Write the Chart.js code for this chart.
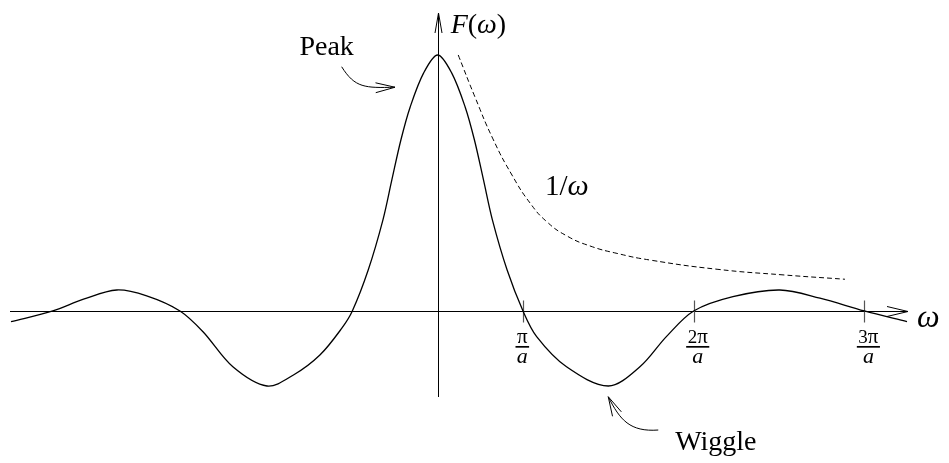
<!DOCTYPE html>
<html><head><meta charset="utf-8">
<script src="https://cdn.jsdelivr.net/npm/chart.js@4"></script>
<style>html,body{margin:0;padding:0;background:#fff}canvas{display:block}</style>
</head><body>
<canvas id="c" width="949" height="463"></canvas>
<script>
// F(ω) sampled along ω (horizontal unit: the π/a tick sits at 1)
const omega = [-5.0, -4.51, -4.15, -3.76, -3.41, -3.02, -2.75, -2.40, -2.00, -1.69, -1.38, -1.125, -1.0,
  -0.814, -0.642, -0.537, -0.431, -0.322, -0.164, 0, 0.164, 0.322, 0.431, 0.537, 0.642, 0.814, 1.0,
  1.16, 1.51, 2.0, 2.37, 2.68, 3.0, 3.46, 4.01, 4.48, 5.0, 5.5];
const response = [-0.042, 0, 0.046, 0.082, 0.059, 0, -0.081, -0.218, -0.293, -0.25, -0.172, -0.068, 0,
  0.16, 0.355, 0.512, 0.668, 0.797, 0.93, 1.0, 0.93, 0.797, 0.668, 0.512, 0.355, 0.16, 0,
  -0.10, -0.218, -0.293, -0.218, -0.10, 0, 0.056, 0.082, 0.05, 0, -0.042];

// 1/ω envelope
const envOmega = [0.241, 0.437, 0.648, 0.871, 1.082, 1.281, 1.515, 1.785, 2.101, 2.488, 3.274, 4.047, 4.773];
const envValue = [1.000, 0.836, 0.672, 0.531, 0.422, 0.348, 0.293, 0.254, 0.225, 0.199, 0.163, 0.141, 0.124];

// horizontal axis ticks
const tickPos = [1, 3, 5];
const tickNum = ['π', '2π', '3π'];
const tickDen = 'a';

const SERIF = '"Liberation Serif", "DejaVu Serif", serif';
const UP = s => s + 'px ' + SERIF;
const IT = s => 'italic ' + s + 'px ' + SERIF;

// text and arrow annotations, placed in data coordinates; each text is a run of [string, font]
const notes = [
  { runs: [['Peak', UP(28)]], at: [-1.62, 1.0] },
  { runs: [['Wiggle', UP(28)]], at: [2.783, -0.543] },
  { runs: [['1/', UP(29)], ['ω', IT(30)]], at: [1.258, 0.453] }
];
// pointers as cubic Bézier paths: start, control 1, control 2, tip
const arrows = [
  { path: [[-1.125, 0.954], [-0.969, 0.871], [-0.852, 0.871], [-0.500, 0.874]] },
  { path: [[2.585, -0.465], [2.254, -0.473], [2.136, -0.426], [1.999, -0.335]] }
];

function drawRuns(ctx, runs, x, y, align) {
  let w = 0;
  runs.forEach(r => { ctx.font = r[1]; w += ctx.measureText(r[0]).width; });
  let cx = align === 'center' ? x - w / 2 : x;
  runs.forEach(r => { ctx.font = r[1]; ctx.fillText(r[0], cx, y); cx += ctx.measureText(r[0]).width; });
  return w;
}

const sketch = {
  id: 'sketch',
  beforeDatasetsDraw(chart) {
    const { ctx, scales: { x, y } } = chart;
    const x0 = Math.round(x.getPixelForValue(0)) + 0.5;
    const y0 = Math.round(y.getPixelForValue(0)) + 0.5;
    ctx.save();
    ctx.strokeStyle = '#000';
    ctx.lineWidth = 1;
    // ω axis
    ctx.beginPath(); ctx.moveTo(x.left - 1, y0); ctx.lineTo(x.right + 1, y0); ctx.stroke();
    ctx.beginPath(); ctx.moveTo(x.right - 20, y0 - 5); ctx.lineTo(x.right + 1, y0); ctx.lineTo(x.right - 20, y0 + 5); ctx.stroke();
    // F axis
    ctx.beginPath(); ctx.moveTo(x0, y.bottom); ctx.lineTo(x0, y.top); ctx.stroke();
    ctx.beginPath(); ctx.moveTo(x0 - 3.5, y.top + 20); ctx.lineTo(x0, y.top); ctx.lineTo(x0 + 3.5, y.top + 20); ctx.stroke();
    // ticks
    ctx.strokeStyle = '#555';
    ctx.lineWidth = 1.2;
    tickPos.forEach(t => {
      const px = Math.round(x.getPixelForValue(t)) + 0.5;
      ctx.beginPath(); ctx.moveTo(px, y0 - 11); ctx.lineTo(px, y0 + 11); ctx.stroke();
    });
    ctx.restore();
  },
  afterDraw(chart) {
    const { ctx, scales: { x, y } } = chart;
    const x0 = x.getPixelForValue(0);
    const y0 = y.getPixelForValue(0);
    ctx.save();
    ctx.fillStyle = '#000';
    ctx.strokeStyle = '#000';
    ctx.textBaseline = 'alphabetic';
    ctx.textAlign = 'left';

    // fraction tick labels
    tickPos.forEach((t, i) => {
      const px = x.getPixelForValue(t);
      const left = px - 7.5;
      const num = tickNum[i];
      const runs = num.length > 1 ? [[num.slice(0, -1), UP(19)], ['π', UP(21)]] : [['π', UP(21)]];
      let w = 0;
      runs.forEach(r => { ctx.font = r[1]; w += ctx.measureText(r[0]).width; });
      const barW = w + 3;
      drawRuns(ctx, runs, left + barW / 2, y0 + 32, 'center');
      ctx.fillRect(left, y0 + 35, barW, 1.7);
      drawRuns(ctx, [[tickDen, IT(22)]], left + barW / 2, y0 + 52, 'center');
    });

    // axis names
    drawRuns(ctx, [['ω', IT(32)]], x.right + 10, y0 + 16, 'left');
    drawRuns(ctx, [['F', IT(28)], ['(', UP(28)], ['ω', IT(28)], [')', UP(28)]], x0 + 13, y.top + 20, 'left');

    // notes
    notes.forEach(n => drawRuns(ctx, n.runs, x.getPixelForValue(n.at[0]), y.getPixelForValue(n.at[1]), 'left'));

    // curved pointers
    ctx.lineWidth = 1;
    arrows.forEach(a => {
      const p = a.path.map(q => [x.getPixelForValue(q[0]), y.getPixelForValue(q[1])]);
      ctx.beginPath();
      ctx.moveTo(p[0][0], p[0][1]);
      ctx.bezierCurveTo(p[1][0], p[1][1], p[2][0], p[2][1], p[3][0], p[3][1]);
      ctx.stroke();
      const ang = Math.atan2(p[3][1] - p[2][1], p[3][0] - p[2][0]);
      const L = 20, h = 0.25;
      ctx.beginPath();
      ctx.moveTo(p[3][0] - L * Math.cos(ang - h), p[3][1] - L * Math.sin(ang - h));
      ctx.lineTo(p[3][0], p[3][1]);
      ctx.lineTo(p[3][0] - L * Math.cos(ang + h), p[3][1] - L * Math.sin(ang + h));
      ctx.stroke();
    });
    ctx.restore();
  }
};

new Chart(document.getElementById('c'), {
  type: 'line',
  data: {
    datasets: [
      {
        data: omega.map((w, i) => ({ x: w, y: response[i] })),
        borderColor: '#000', borderWidth: 1.3, pointRadius: 0,
        tension: 0.33, fill: false
      },
      {
        data: envOmega.map((w, i) => ({ x: w, y: envValue[i] })),
        borderColor: '#000', borderWidth: 1, borderDash: [5, 3], pointRadius: 0,
        tension: 0.5, fill: false
      }
    ]
  },
  options: {
    responsive: false,
    devicePixelRatio: 1,
    animation: false,
    clip: false,
    layout: { padding: { left: 11, right: 42, top: 13, bottom: 66 } },
    plugins: { legend: { display: false }, tooltip: { enabled: false } },
    scales: {
      x: { type: 'linear', min: -5, max: 5.5, display: false },
      y: { type: 'linear', min: -0.336, max: 1.164, display: false }
    }
  },
  plugins: [sketch]
});
</script>
</body></html>
